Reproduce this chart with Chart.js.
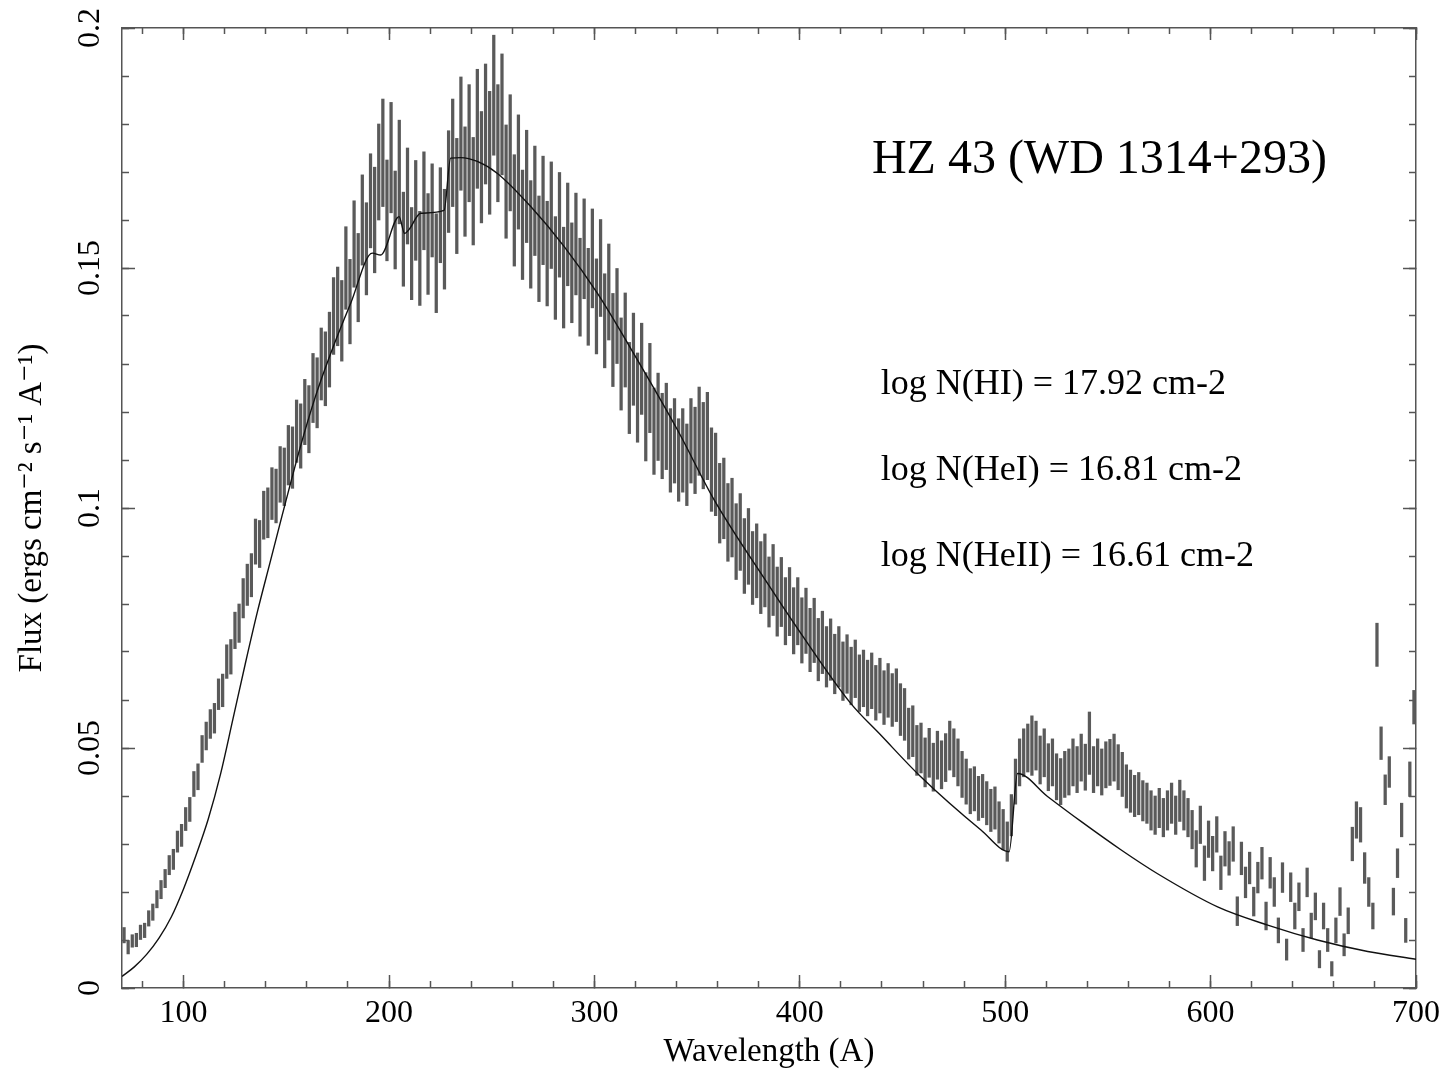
<!DOCTYPE html>
<html>
<head>
<meta charset="utf-8">
<title>HZ 43 (WD 1314+293)</title>
<script src="https://cdn.jsdelivr.net/npm/chart.js@4.4.1/dist/chart.umd.min.js"></script>
<style>
  html, body { margin: 0; padding: 0; background: #fff; }
  #wrap { width: 1445px; height: 1074px; }
</style>
</head>
<body>
<div id="wrap"><canvas id="spectrum"></canvas></div>
<script>
// measured spectrum, one error bar per 2 A bin
const binStart = 71;
const binStep = 2;

const fluxMid = [
  0.0110, 0.0085, 0.0098, 0.0100, 0.0116, 0.0120, 0.0145, 0.0158, 0.0185, 0.0205, // 71
  0.0228, 0.0256, 0.0268, 0.0305, 0.0318, 0.0352, 0.0372, 0.0425, 0.0440, 0.0498, // 91
  0.0525, 0.0550, 0.0562, 0.0612, 0.0620, 0.0680, 0.0690, 0.0745, 0.0760, 0.0812, // 111
  0.0840, 0.0860, 0.0930, 0.0925, 0.0985, 0.0990, 0.1030, 0.1025, 0.1070, 0.1065, // 131
  0.1110, 0.1105, 0.1160, 0.1150, 0.1200, 0.1185, 0.1250, 0.1240, 0.1300, 0.1290, // 151
  0.1330, 0.1400, 0.1420, 0.1390, 0.1500, 0.1430, 0.1550, 0.1480, 0.1600, 0.1540, // 171
  0.1640, 0.1600, 0.1700, 0.1740, 0.1620, 0.1730, 0.1600, 0.1700, 0.1560, 0.1650, // 191
  0.1530, 0.1620, 0.1520, 0.1640, 0.1550, 0.1620, 0.1510, 0.1610, 0.1560, 0.1680, // 211
  0.1740, 0.1650, 0.1780, 0.1680, 0.1760, 0.1660, 0.1790, 0.1710, 0.1800, 0.1740, // 231
  0.1860, 0.1760, 0.1820, 0.1680, 0.1740, 0.1620, 0.1700, 0.1590, 0.1670, 0.1570, // 251
  0.1640, 0.1540, 0.1620, 0.1530, 0.1610, 0.1500, 0.1590, 0.1480, 0.1570, 0.1490, // 271
  0.1550, 0.1460, 0.1540, 0.1440, 0.1520, 0.1420, 0.1500, 0.1390, 0.1450, 0.1350, // 291
  0.1400, 0.1300, 0.1350, 0.1250, 0.1310, 0.1230, 0.1290, 0.1190, 0.1250, 0.1160, // 311
  0.1190, 0.1150, 0.1170, 0.1120, 0.1140, 0.1100, 0.1120, 0.1090, 0.1140, 0.1120, // 331
  0.1160, 0.1130, 0.1150, 0.1080, 0.1070, 0.1010, 0.1020, 0.0970, 0.0980, 0.0930, // 351
  0.0950, 0.0900, 0.0920, 0.0875, 0.0890, 0.0855, 0.0870, 0.0825, 0.0850, 0.0805, // 371
  0.0825, 0.0785, 0.0805, 0.0765, 0.0785, 0.0745, 0.0765, 0.0725, 0.0745, 0.0705, // 391
  0.0720, 0.0690, 0.0705, 0.0675, 0.0690, 0.0660, 0.0675, 0.0650, 0.0665, 0.0635, // 411
  0.0645, 0.0625, 0.0640, 0.0615, 0.0630, 0.0605, 0.0620, 0.0600, 0.0610, 0.0580, // 431
  0.0570, 0.0530, 0.0535, 0.0495, 0.0500, 0.0470, 0.0490, 0.0460, 0.0485, 0.0465, // 451
  0.0480, 0.0505, 0.0490, 0.0470, 0.0445, 0.0430, 0.0410, 0.0415, 0.0395, 0.0400, // 471
  0.0385, 0.0370, 0.0375, 0.0345, 0.0330, 0.0305, 0.0360, 0.0430, 0.0470, 0.0490, // 491
  0.0500, 0.0505, 0.0505, 0.0475, 0.0490, 0.0460, 0.0470, 0.0440, 0.0430, 0.0445, // 511
  0.0450, 0.0470, 0.0455, 0.0480, 0.0460, 0.0510, 0.0455, 0.0470, 0.0450, 0.0465, // 531
  0.0470, 0.0480, 0.0460, 0.0445, 0.0420, 0.0410, 0.0400, 0.0405, 0.0390, 0.0385, // 551
  0.0370, 0.0360, 0.0375, 0.0355, 0.0370, 0.0385, 0.0360, 0.0390, 0.0370, 0.0355, // 571
  0.0330, 0.0290, 0.0340, 0.0260, 0.0310, 0.0280, 0.0320, 0.0240, 0.0290, 0.0270, // 591
  0.0300, 0.0160, 0.0270, 0.0220, 0.0250, 0.0180, 0.0230, 0.0260, 0.0150, 0.0240, // 611
  0.0200, 0.0120, 0.0230, 0.0080, 0.0210, 0.0150, 0.0190, 0.0100, 0.0220, 0.0130, // 631
  0.0170, 0.0060, 0.0150, 0.0100, 0.0040, 0.0120, 0.0180, 0.0090, 0.0140, 0.0300, // 651
  0.0350, 0.0340, 0.0250, 0.0200, 0.0150, 0.0715, 0.0510, 0.0413, 0.0450, 0.0180, // 671
  0.0260, 0.0350, 0.0120, 0.0435, 0.0585                                          // 691
];

const fluxErr = [
  0.0016, 0.0014, 0.0013, 0.0014, 0.0015, 0.0015, 0.0016, 0.0017, 0.0018, 0.0019,
  0.0019, 0.0020, 0.0021, 0.0022, 0.0023, 0.0024, 0.0025, 0.0026, 0.0027, 0.0028,
  0.0029, 0.0030, 0.0031, 0.0032, 0.0034, 0.0035, 0.0036, 0.0038, 0.0040, 0.0041,
  0.0043, 0.0045, 0.0047, 0.0049, 0.0050, 0.0052, 0.0054, 0.0056, 0.0058, 0.0060,
  0.0062, 0.0064, 0.0065, 0.0067, 0.0068, 0.0070, 0.0072, 0.0073, 0.0075, 0.0077,
  0.0078, 0.0080, 0.0082, 0.0084, 0.0086, 0.0088, 0.0090, 0.0092, 0.0094, 0.0096,
  0.0098, 0.0110, 0.0100, 0.0112, 0.0105, 0.0115, 0.0102, 0.0108, 0.0098, 0.0100,
  0.0096, 0.0104, 0.0098, 0.0102, 0.0105, 0.0097, 0.0103, 0.0099, 0.0104, 0.0106,
  0.0112, 0.0120, 0.0118, 0.0114, 0.0122, 0.0112, 0.0124, 0.0116, 0.0125, 0.0128,
  0.0125, 0.0122, 0.0126, 0.0118, 0.0121, 0.0116, 0.0119, 0.0114, 0.0117, 0.0112,
  0.0114, 0.0110, 0.0113, 0.0109, 0.0111, 0.0107, 0.0109, 0.0105, 0.0107, 0.0104,
  0.0106, 0.0102, 0.0104, 0.0101, 0.0103, 0.0099, 0.0101, 0.0098, 0.0100, 0.0097,
  0.0099, 0.0096, 0.0098, 0.0095, 0.0096, 0.0093, 0.0095, 0.0092, 0.0093, 0.0090,
  0.0091, 0.0089, 0.0090, 0.0087, 0.0088, 0.0086, 0.0087, 0.0085, 0.0088, 0.0090,
  0.0092, 0.0090, 0.0091, 0.0087, 0.0086, 0.0083, 0.0084, 0.0081, 0.0082, 0.0079,
  0.0080, 0.0078, 0.0079, 0.0076, 0.0077, 0.0075, 0.0076, 0.0073, 0.0074, 0.0072,
  0.0072, 0.0070, 0.0071, 0.0069, 0.0070, 0.0068, 0.0068, 0.0066, 0.0067, 0.0065,
  0.0065, 0.0063, 0.0064, 0.0062, 0.0063, 0.0061, 0.0061, 0.0060, 0.0060, 0.0059,
  0.0059, 0.0058, 0.0058, 0.0057, 0.0057, 0.0056, 0.0056, 0.0055, 0.0055, 0.0054,
  0.0054, 0.0053, 0.0053, 0.0052, 0.0052, 0.0051, 0.0051, 0.0050, 0.0050, 0.0050,
  0.0050, 0.0051, 0.0050, 0.0049, 0.0048, 0.0047, 0.0047, 0.0046, 0.0046, 0.0045,
  0.0045, 0.0044, 0.0044, 0.0043, 0.0042, 0.0041, 0.0043, 0.0047, 0.0049, 0.0050,
  0.0050, 0.0062, 0.0051, 0.0050, 0.0050, 0.0049, 0.0049, 0.0048, 0.0048, 0.0048,
  0.0048, 0.0049, 0.0048, 0.0049, 0.0048, 0.0065, 0.0048, 0.0049, 0.0048, 0.0048,
  0.0048, 0.0049, 0.0047, 0.0046, 0.0045, 0.0044, 0.0043, 0.0044, 0.0042, 0.0042,
  0.0041, 0.0040, 0.0041, 0.0040, 0.0041, 0.0042, 0.0040, 0.0043, 0.0041, 0.0040,
  0.0040, 0.0038, 0.0039, 0.0036, 0.0038, 0.0036, 0.0037, 0.0035, 0.0036, 0.0035,
  0.0036, 0.0030, 0.0034, 0.0032, 0.0033, 0.0030, 0.0032, 0.0033, 0.0029, 0.0032,
  0.0030, 0.0026, 0.0031, 0.0022, 0.0030, 0.0027, 0.0029, 0.0024, 0.0030, 0.0026,
  0.0028, 0.0018, 0.0027, 0.0024, 0.0015, 0.0026, 0.0029, 0.0023, 0.0027, 0.0035,
  0.0038, 0.0036, 0.0032, 0.0030, 0.0027, 0.0045, 0.0034, 0.0031, 0.0032, 0.0028,
  0.0030, 0.0035, 0.0025, 0.0036, 0.0035
];

// model atmosphere (solid curve)
const modelWave = [70, 76, 82, 88, 94, 100, 106, 112, 118, 124,
  130, 136, 142, 148, 157, 164, 171.6, 181.3, 191.9,
  195.9, 204.9, 207.6, 209.7, 215.4, 226.8, 230, 234.9, 243, 252.8,
  269, 285.2, 301.5, 318, 340.4, 358.3, 384.3, 400.5, 424.8, 439.4,
  458.9, 488.2, 501.9, 506, 520.6, 536.9, 556.3, 574.2, 603.4, 627.8,
  652, 676.5, 700];
const modelFlux = [0.0024, 0.0044, 0.0070, 0.0104, 0.0148, 0.0207, 0.0276, 0.0352, 0.0446, 0.0560,
  0.0675, 0.0785, 0.0885, 0.0985, 0.1130, 0.1230, 0.1322, 0.1426, 0.1531,
  0.1527, 0.1607, 0.1572, 0.1580, 0.1614, 0.1620, 0.1729, 0.1730, 0.1722, 0.1697,
  0.1628, 0.1545, 0.1447, 0.1330, 0.1163, 0.1017, 0.0843, 0.0739, 0.0593, 0.0527,
  0.0440, 0.0329, 0.0284, 0.0447, 0.0399, 0.0347, 0.0288, 0.0238, 0.0169, 0.0131,
  0.0100, 0.0076, 0.0060];

const xMajorTicks = [100, 200, 300, 400, 500, 600, 700];
const xMinorTicks = [80, 100, 120, 140, 160, 180, 200, 220, 240, 260, 280, 300, 320, 340, 360, 380,
  400, 420, 440, 460, 480, 500, 520, 540, 560, 580, 600, 620, 640, 660, 680, 700];
const yMajorTicks = [0, 0.05, 0.1, 0.15, 0.2];
const yTickLabels = ['0', '0.05', '0.1', '0.15', '0.2'];
const yMinorTicks = [0, 0.01, 0.02, 0.03, 0.04, 0.05, 0.06, 0.07, 0.08, 0.09, 0.1,
  0.11, 0.12, 0.13, 0.14, 0.15, 0.16, 0.17, 0.18, 0.19, 0.2];

// text placed in data coordinates (wavelength, flux of baseline)
const notes = [
  { text: 'HZ 43 (WD 1314+293)', x: 435.1, y: 0.1698, size: 48 },
  { text: 'log N(HI) = 17.92 cm-2', x: 439.4, y: 0.1238, size: 36 },
  { text: 'log N(HeI) = 16.81 cm-2', x: 439.4, y: 0.1058, size: 36 },
  { text: 'log N(HeII) = 16.61 cm-2', x: 439.4, y: 0.0879, size: 36 }
];

const frame = '#555';
const serif = '"Liberation Serif", "Times New Roman", "DejaVu Serif", serif';

// axis that only draws inward tick marks (and optionally the frame line)
function tickAxis(pos, lo, hi, ticks, len, extra) {
  return Object.assign({
    type: 'linear',
    position: pos,
    min: lo,
    max: hi,
    offset: false,
    weight: 0,
    afterBuildTicks: s => { s.ticks = ticks.map(v => ({ value: v })); },
    afterFit: s => {
      if (s.isHorizontal()) s.height = 0; else s.width = 0;
      s.paddingLeft = s.paddingRight = s.paddingTop = s.paddingBottom = 0;
    },
    grid: { drawOnChartArea: false, drawTicks: true, tickLength: -len, tickColor: frame, tickWidth: 1.5, offset: false },
    border: { display: false },
    ticks: { display: false }
  }, extra || {});
}

const bars = fluxMid.map((v, i) => ({ x: binStart + i * binStep, y: [v - fluxErr[i], v + fluxErr[i]] }));
const model = modelWave.map((w, i) => ({ x: w, y: modelFlux[i] }));

const notePlugin = {
  id: 'notes',
  afterDatasetsDraw(chart) {
    const { ctx, scales } = chart;
    ctx.save();
    ctx.fillStyle = '#000';
    ctx.textAlign = 'left';
    ctx.textBaseline = 'alphabetic';
    notes.forEach(n => {
      ctx.font = n.size + 'px ' + serif;
      ctx.fillText(n.text, scales.x.getPixelForValue(n.x), scales.y.getPixelForValue(n.y));
    });
    ctx.restore();
  }
};

const ctx = document.getElementById('spectrum').getContext('2d');
new Chart(ctx, {
  type: 'bar',
  data: {
    datasets: [
      {
        type: 'line',
        label: 'Model',
        data: model,
        borderColor: '#111',
        borderWidth: 1.4,
        pointRadius: 0,
        cubicInterpolationMode: 'monotone',
        fill: false,
        order: 0
      },
      {
        label: 'EUVE flux',
        data: bars,
        backgroundColor: '#5a5a5a',
        borderWidth: 0,
        barThickness: 2.6,
        grouped: false,
        order: 1
      }
    ]
  },
  options: {
    responsive: true,
    maintainAspectRatio: false,
    devicePixelRatio: 1,
    animation: false,
    events: [],
    layout: { padding: { top: 28, right: 29, bottom: 0, left: 0 } },
    plugins: {
      legend: { display: false },
      tooltip: { enabled: false }
    },
    scales: {
      x: tickAxis('bottom', 70, 700, xMajorTicks, 13, {
        weight: 1,
        afterFit: s => { s.height = 86; s.paddingLeft = 0; s.paddingRight = 0; },
        border: { display: true, color: frame, width: 1.5 },
        ticks: {
          display: true, autoSkip: false, maxRotation: 0, padding: 19, color: '#000',
          font: { family: serif, size: 32 },
          callback: v => String(v)
        },
        title: {
          display: true, text: 'Wavelength (A)', color: '#000',
          font: { family: serif, size: 33 }, padding: { top: 0, bottom: 2 }
        }
      }),
      x2: tickAxis('bottom', 70, 700, xMinorTicks, 7),
      xTop: tickAxis('top', 70, 700, xMajorTicks, 12, { border: { display: true, color: frame, width: 1.5 } }),
      xTop2: tickAxis('top', 70, 700, xMinorTicks, 6),
      y: tickAxis('left', 0, 0.2, yMajorTicks, 13, {
        weight: 1,
        afterFit: s => { s.width = 122; s.paddingTop = 0; s.paddingBottom = 0; },
        border: { display: true, color: frame, width: 1.5 },
        ticks: {
          display: true, autoSkip: false, minRotation: 90, maxRotation: 90,
          crossAlign: 'center', padding: 16, color: '#000',
          font: { family: serif, size: 32 },
          callback: (v, i) => yTickLabels[i]
        },
        title: {
          display: true, text: 'Flux (ergs cm\u207B\u00B2 s\u207B\u00B9 A\u207B\u00B9)', color: '#000',
          font: { family: serif, size: 33 }, padding: { top: 13, bottom: 0 }
        }
      }),
      y2: tickAxis('left', 0, 0.2, yMinorTicks, 7),
      yRight: tickAxis('right', 0, 0.2, yMajorTicks, 13, { border: { display: true, color: frame, width: 1.5 } }),
      yRight2: tickAxis('right', 0, 0.2, yMinorTicks, 7)
    }
  },
  plugins: [notePlugin]
});
</script>
</body>
</html>
